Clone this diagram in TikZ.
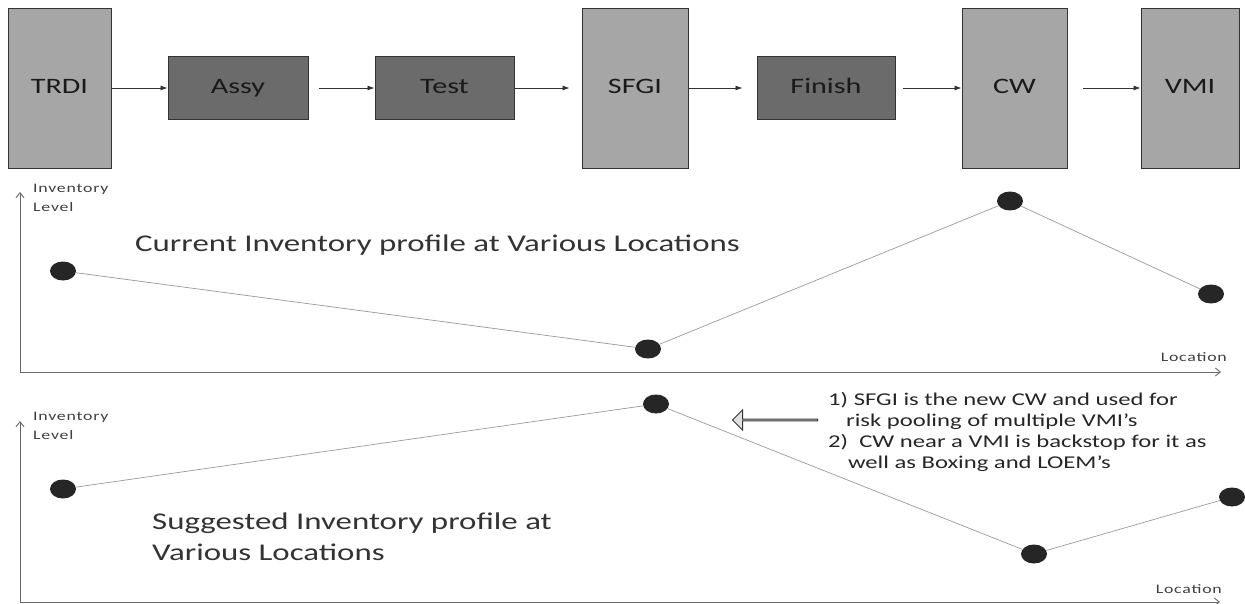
\documentclass[tikz,border=0pt]{standalone}
\usepackage{fontspec}
\setmainfont{Carlito}
\newfontfamily\widefont[FakeStretch=1.37]{Carlito}
\newfontfamily\labelfont[FakeStretch=1.37,LetterSpace=6]{Carlito}
\usetikzlibrary{arrows.meta,shapes.geometric,shapes.arrows}
\definecolor{stockfill}{HTML}{A6A6A6}
\definecolor{procfill}{HTML}{6B6B6B}
\definecolor{edge}{HTML}{333333}
\definecolor{ink}{HTML}{1A1A1A}
\definecolor{trend}{HTML}{9A9A9A}
\definecolor{axisgray}{HTML}{6A6A6A}
\begin{document}
\begin{tikzpicture}[x=1pt,y=-1pt,
  boxtext/.style={font=\widefont\fontsize{22}{24}\selectfont,text=ink,text height=15pt,text depth=4pt},
  stockbox/.style={draw=edge,line width=0.9pt,fill=stockfill,minimum width=#1,minimum height=160,inner sep=0,boxtext},
  procbox/.style={draw=edge,line width=0.9pt,fill=procfill,minimum width=#1,minimum height=63,inner sep=0,boxtext},
  flow/.style={draw=edge,line width=0.8pt,-{Latex[length=7pt,width=5pt]}},
  axisline/.style={draw=axisgray,line width=0.9pt,-{Straight Barb[length=5pt,width=8pt]}},
  dot/.style={ellipse,fill=black!85,minimum width=26,minimum height=19,inner sep=0},
  trendline/.style={draw=trend,line width=0.7pt},
  axislabel/.style={font=\labelfont\fontsize{13}{19}\selectfont,text=black!75,anchor=north west,align=left,inner sep=0},
  loclabel/.style={font=\labelfont\fontsize{13}{15}\selectfont,text=black!75,inner sep=0},
  caption/.style={font=\widefont\fontsize{24}{31}\selectfont,text=black!80,inner sep=0},
]
\useasboundingbox (0,0) rectangle (1245,604);

% process chain
\node[stockbox=103] (trdi)   at (59.5,88)  {TRDI};
\node[procbox=140]  (assy)   at (238,88)   {Assy};
\node[procbox=139]  (test)   at (444.5,88) {Test};
\node[stockbox=106] (sfgi)   at (635,88)   {SFGI};
\node[procbox=138]  (finish) at (826,88)   {Finish};
\node[stockbox=105] (cw)     at (1014.5,88){CW};
\node[stockbox=98]  (vmi)    at (1190,88)  {VMI};

\draw[flow] (trdi) -- (assy);
\draw[flow,shorten <=11pt] (assy) -- (test);
\draw[flow,shorten >=12pt] (test) -- (sfgi);
\draw[flow,shorten >=14pt] (sfgi) -- (finish);
\draw[flow,shorten <=8pt] (finish) -- (cw);
\draw[flow,shorten <=16pt] (cw) -- (vmi);

% current profile
\coordinate (o1) at (20,372);
\coordinate (y1) at (20,192);
\coordinate (x1) at (1221,372);
\draw[axisline] (o1) -- (y1);
\draw[axisline] (o1) -- (x1);
\node[axislabel] (lvl1) at (33,184) {Inventory\\Level};
\node[loclabel,anchor=east] (loc1) at (1227,357) {Location};
\node[caption,anchor=west] (cap1) at (135,245) {Current Inventory profile at Various Locations};

\node[dot] (c1) at (63,271) {};
\node[dot] (c2) at (648,349) {};
\node[dot] (c3) at (1010,201) {};
\node[dot] (c4) at (1211,294) {};
\draw[trendline] (c1) -- (c2) -- (c3) -- (c4);

% suggested profile
\coordinate (o2) at (20,602);
\coordinate (y2) at (20,421);
\coordinate (x2) at (1220,602);
\draw[axisline] (o2) -- (y2);
\draw[axisline] (o2) -- (x2);
\node[axislabel] (lvl2) at (33,412) {Inventory\\Level};
\node[loclabel,anchor=east] (loc2) at (1222,589) {Location};
\node[caption,anchor=west,align=left] (cap2) at (152,537) {Suggested Inventory profile at\\Various Locations};

\node[dot] (s1) at (63,489) {};
\node[dot] (s2) at (656,404) {};
\node[dot] (s3) at (1034,554) {};
\node[dot] (s4) at (1232,497) {};
\draw[trendline] (s1) -- (s2) -- (s3) -- (s4);

% note and pointer
\node[single arrow,shape border rotate=180,draw=edge,line width=0.9pt,fill=black!12,
  minimum width=20,minimum height=85,single arrow head extend=4.5,inner sep=0] (ptr) at (775.5,420) {};
\node[anchor=north west,align=left,inner sep=0,font=\widefont\fontsize{18}{21}\selectfont,text=black!85] (note) at (828,392)
  {1) SFGI is the new CW and used for\\
   \hspace*{1.0em}risk pooling of multiple VMI’s\\
   2)\ \ CW near a VMI is backstop for it as\\
   \hspace*{1.1em}well as Boxing and LOEM’s};
\end{tikzpicture}
\end{document}
